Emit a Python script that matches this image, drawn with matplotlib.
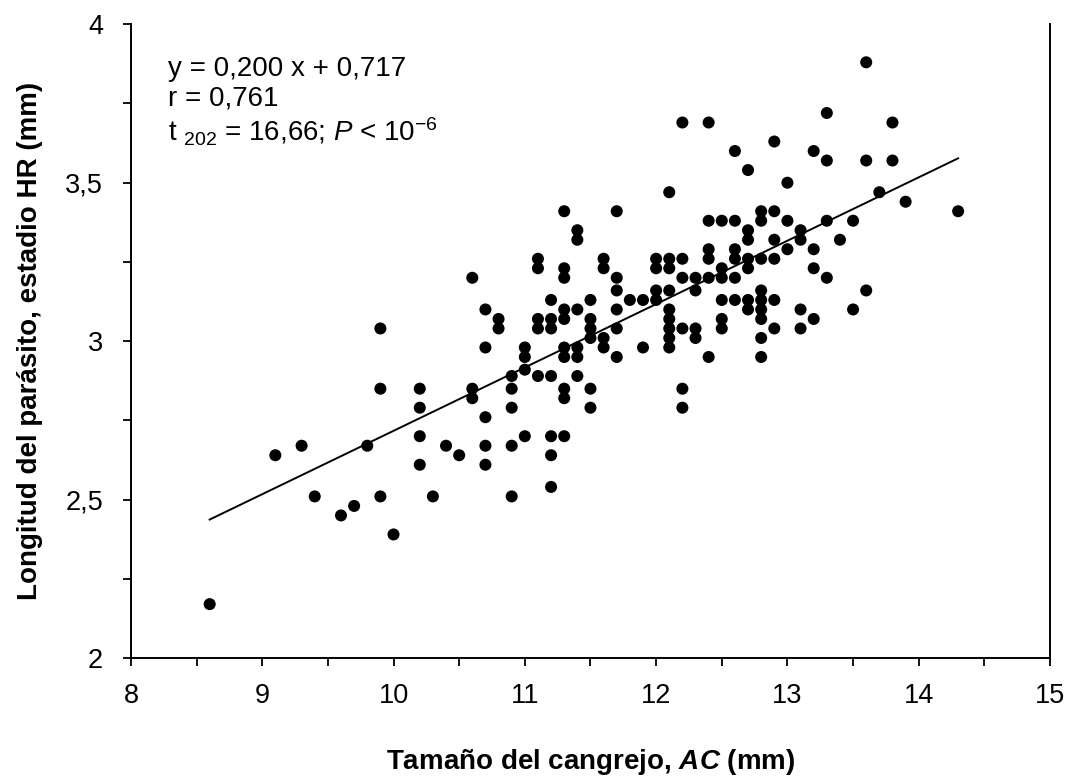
import numpy as np
import matplotlib
matplotlib.use("Agg")
import matplotlib.pyplot as plt
from matplotlib.ticker import MultipleLocator, FuncFormatter

plt.rcParams['font.family'] = ['Liberation Sans', 'DejaVu Sans']
plt.rcParams['mathtext.fontset'] = 'custom'
plt.rcParams['mathtext.rm'] = 'Liberation Sans'
plt.rcParams['mathtext.it'] = 'Liberation Sans:italic'
plt.rcParams['mathtext.bf'] = 'Liberation Sans:bold'
plt.rcParams['mathtext.bfit'] = 'Liberation Sans:italic:bold'

# crab size (mm) -> parasite lengths (mm)
crab_size = [8.6, 9.1, 9.3, 9.4, 9.6, 9.7, 9.8, 9.9, 10.0, 10.2, 10.3, 10.4, 10.5,
             10.6, 10.7, 10.8, 10.9, 11.0, 11.1, 11.2, 11.3, 11.4, 11.5, 11.6,
             11.7, 11.8, 11.9, 12.0, 12.1, 12.2, 12.3, 12.4, 12.5, 12.6, 12.7,
             12.8, 12.9, 13.0, 13.1, 13.2, 13.3, 13.4, 13.5, 13.6, 13.7, 13.8,
             13.9, 14.3]
parasite_len = [
    [2.17],
    [2.64],
    [2.67],
    [2.51],
    [2.45],
    [2.48],
    [2.67],
    [2.51, 2.85, 3.04],
    [2.39],
    [2.61, 2.70, 2.79, 2.85],
    [2.51],
    [2.67],
    [2.64],
    [2.82, 2.85, 3.20],
    [2.61, 2.67, 2.76, 2.98, 3.10],
    [3.04, 3.07],
    [2.51, 2.67, 2.79, 2.85, 2.89],
    [2.70, 2.91, 2.95, 2.98],
    [2.89, 3.04, 3.07, 3.23, 3.26],
    [2.54, 2.64, 2.70, 2.89, 3.04, 3.07, 3.13],
    [2.70, 2.82, 2.85, 2.95, 2.98, 3.07, 3.10, 3.20, 3.23, 3.41],
    [2.89, 2.95, 2.98, 3.10, 3.32, 3.35],
    [2.79, 2.85, 3.01, 3.04, 3.07, 3.13],
    [2.98, 3.01, 3.23, 3.26],
    [2.95, 3.04, 3.10, 3.16, 3.20, 3.41],
    [3.13],
    [2.98, 3.13],
    [3.13, 3.16, 3.23, 3.26],
    [2.98, 3.01, 3.04, 3.07, 3.10, 3.16, 3.23, 3.26, 3.47],
    [2.79, 2.85, 3.04, 3.20, 3.26, 3.69],
    [3.01, 3.04, 3.16, 3.20],
    [2.95, 3.20, 3.26, 3.29, 3.38, 3.69],
    [3.04, 3.07, 3.13, 3.20, 3.23, 3.38],
    [3.13, 3.20, 3.26, 3.29, 3.38, 3.60],
    [3.10, 3.13, 3.23, 3.26, 3.32, 3.35, 3.54],
    [2.95, 3.01, 3.07, 3.10, 3.13, 3.16, 3.26, 3.38, 3.41],
    [3.04, 3.13, 3.26, 3.32, 3.41, 3.63],
    [3.29, 3.38, 3.50],
    [3.04, 3.10, 3.32, 3.35],
    [3.07, 3.23, 3.29, 3.60],
    [3.20, 3.38, 3.57, 3.72],
    [3.32],
    [3.10, 3.38],
    [3.16, 3.57, 3.88],
    [3.47],
    [3.57, 3.69],
    [3.44],
    [3.41],
]

# fitted line as printed on the chart
slope = 0.200
intercept = 0.717
fit_range = [8.6, 14.3]

xs = np.concatenate([[c] * len(v) for c, v in zip(crab_size, parasite_len)])
ys = np.concatenate(parasite_len)

fig = plt.figure(figsize=(10.73, 7.83), dpi=100)
ax = fig.add_axes([0.122, 0.1596, 0.8566, 0.8094])

ax.scatter(xs, ys, s=75, color='black', edgecolors='none', zorder=3)
fx = np.array(fit_range)
ax.plot(fx, slope * fx + intercept, color='black', lw=1.4, zorder=2)

ax.set_xlim(8, 15)
ax.set_ylim(2, 4)
ax.xaxis.set_major_locator(MultipleLocator(1))
ax.xaxis.set_minor_locator(MultipleLocator(0.5))
ax.yaxis.set_major_locator(MultipleLocator(0.5))
ax.yaxis.set_minor_locator(MultipleLocator(0.25))
ax.yaxis.set_major_formatter(FuncFormatter(lambda v, p: f"{v:g}".replace('.', ',')))

ax.spines['top'].set_visible(False)
for s in ['left', 'right', 'bottom']:
    ax.spines[s].set_linewidth(1.4)
ax.tick_params(which='both', direction='out', length=6, width=1.3,
               top=False, right=False)
ax.tick_params(axis='x', which='major', labelsize=19.5, pad=12)
ax.tick_params(axis='y', which='major', labelsize=19.5, pad=14)

ax.set_xlabel('Tamaño del cangrejo, $\\mathbfit{AC}$ (mm)', fontsize=20,
              fontweight='bold', labelpad=27)
ax.set_ylabel('Longitud del parásito, estadio HR (mm)', fontsize=20,
              fontweight='bold', labelpad=16)

ax.text(0.040, 0.93, 'y = 0,200 x + 0,717', transform=ax.transAxes,
        fontsize=20, va='center')
ax.text(0.040, 0.883, 'r = 0,761', transform=ax.transAxes,
        fontsize=20, va='center')
ax.text(0.040, 0.83, 't $_{202}$ = 16,66; $P$ < 10$^{-6}$',
        transform=ax.transAxes, fontsize=20, va='center')

fig.savefig('out.png', dpi=100)
